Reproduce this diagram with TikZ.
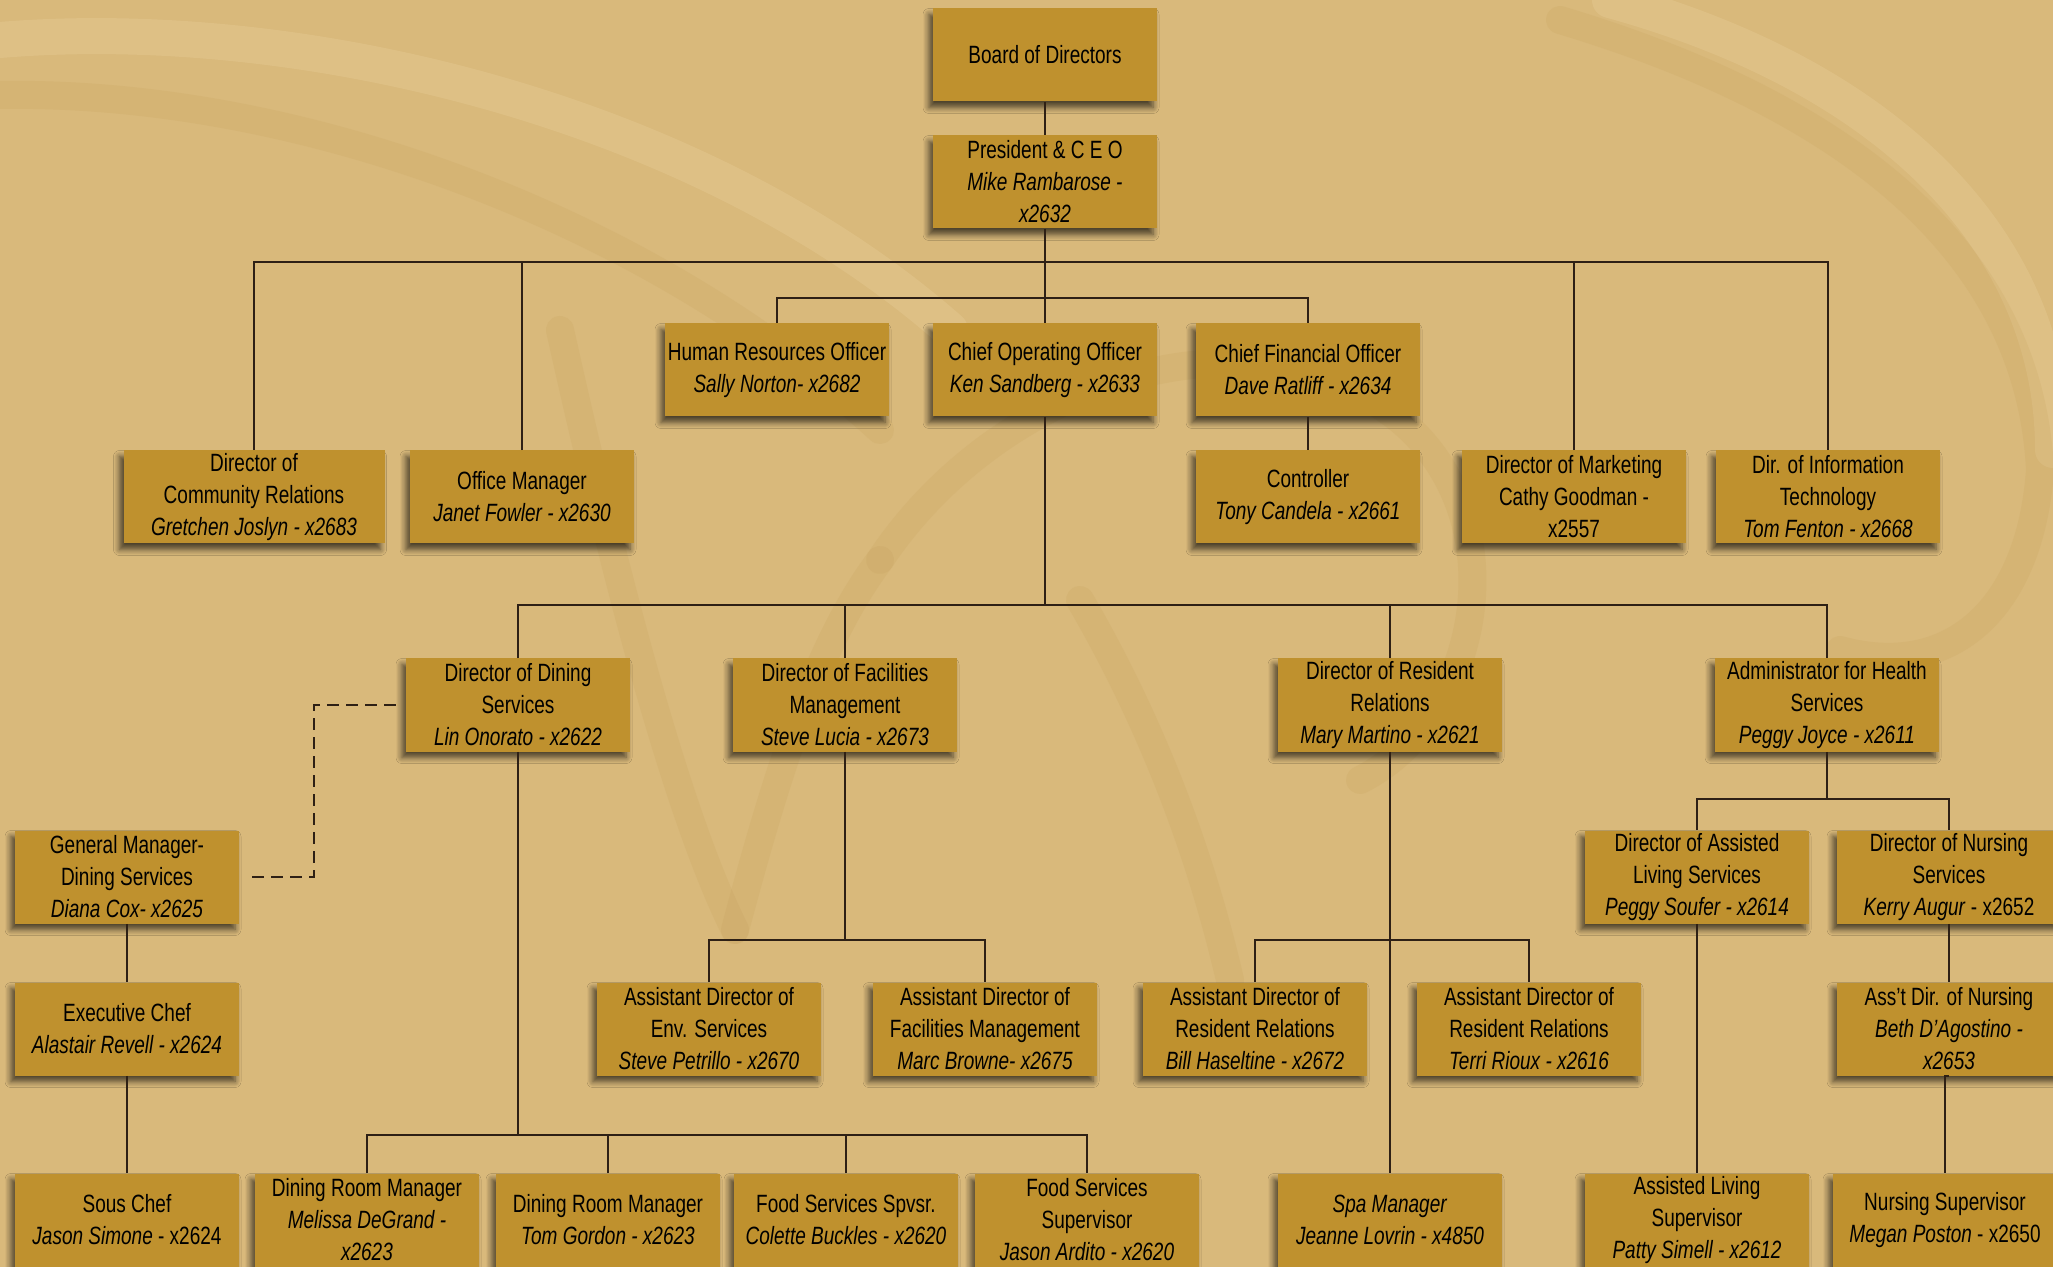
\documentclass[tikz,border=0pt]{standalone}
\usepackage{fontspec}
\setmainfont{Liberation Sans}[FakeStretch=0.76]
\usetikzlibrary{shadows.blur}
\definecolor{bg}{HTML}{D9B97B}
\definecolor{boxc}{HTML}{BF912E}
\definecolor{ln}{HTML}{2E2015}
\definecolor{wml}{HTML}{E8CE9A}
\definecolor{wmd}{HTML}{C29B55}
\newcommand{\nm}[1]{\textit{#1}}
\begin{document}
\begin{tikzpicture}[x=0.5pt,y=-0.5pt,
  box/.style={rectangle, fill=boxc, minimum width=112pt, minimum height=46.5pt,
    inner sep=1pt, align=center, font=\fontsize{12.5}{16}\selectfont,
    blur shadow={shadow xshift=-2pt, shadow yshift=-3pt, shadow blur radius=3pt, shadow blur steps=6, shadow opacity=65}},
  wide/.style={minimum width=130.5pt},
  conn/.style={draw=ln, line width=1pt},
  dl/.style={draw=ln, line width=1.2pt, dash pattern=on 6pt off 3.5pt},
  wmlight/.style={draw=wml, line width=18pt, opacity=0.35, line cap=round},
  wmdark/.style={draw=wmd, line width=14pt, opacity=0.16, line cap=round}]
\useasboundingbox (0,0) rectangle (2053,1267);
\fill[bg] (0,0) rectangle (2053,1267);
% watermark swirls
\draw[wmlight] (0,40) .. controls (300,15) and (700,110) .. (950,330);
\draw[wmdark] (0,95) .. controls (300,90) and (650,220) .. (880,430);
\draw[wmdark] (560,330) .. controls (620,600) and (680,820) .. (735,930);
\draw[wmdark] (735,930) .. controls (780,760) and (820,640) .. (880,560);
\draw[wmdark] (880,560) .. controls (1000,380) and (1250,300) .. (1400,420)
   .. controls (1520,520) and (1480,720) .. (1360,780);
\draw[wmdark] (1080,600) .. controls (1150,720) and (1200,850) .. (1230,980);
\draw[wmlight] (1610,0) .. controls (1900,80) and (2053,250) .. (2053,450);
\draw[wmdark] (1560,20) .. controls (1860,110) and (2030,260) .. (2040,470)
   .. controls (2030,610) and (1950,680) .. (1840,650);

% nodes
\node[box] (board) at (1045,55) {Board of Directors};
\node[box] (pres) at (1045,182) {President \& C E O\\\nm{Mike Rambarose -}\\\nm{x2632}};
\node[box] (hr) at (777,370) {Human Resources Officer\\\nm{Sally Norton- x2682}};
\node[box] (coo) at (1045,370) {Chief Operating Officer\\\nm{Ken Sandberg - x2633}};
\node[box] (cfo) at (1308,370) {Chief Financial Officer\\\nm{Dave Ratliff - x2634}};
\node[box,wide] (comm) at (254,497) {Director of\\Community Relations\\\nm{Gretchen Joslyn - x2683}};
\node[box] (office) at (522,497) {Office Manager\\\nm{Janet Fowler - x2630}};
\node[box] (ctrl) at (1308,497) {Controller\\\nm{Tony Candela - x2661}};
\node[box] (mkt) at (1574,497) {Director of Marketing\\Cathy Goodman -\\x2557};
\node[box] (it) at (1828,497) {Dir. of Information\\Technology\\\nm{Tom Fenton - x2668}};
\node[box] (dining) at (518,705) {Director of Dining\\Services\\\nm{Lin Onorato - x2622}};
\node[box] (fac) at (845,705) {Director of Facilities\\Management\\\nm{Steve Lucia - x2673}};
\node[box] (res) at (1390,705) {Director of Resident\\Relations\\\nm{Mary Martino - x2621}};
\node[box] (health) at (1827,705) {Administrator for Health\\Services\\\nm{Peggy Joyce - x2611}};
\node[box] (gm) at (127,877) {General Manager-\\Dining Services\\\nm{Diana Cox- x2625}};
\node[box] (exec) at (127,1029) {Executive Chef\\\nm{Alastair Revell - x2624}};
\node[box] (sous) at (127,1220) {Sous Chef\\\nm{Jason Simone} - x2624};
\node[box] (dals) at (1697,877) {Director of Assisted\\Living Services\\\nm{Peggy Soufer - x2614}};
\node[box] (dns) at (1949,877) {Director of Nursing\\Services\\\nm{Kerry Augur} - x2652};
\node[box] (adn) at (1949,1029) {Ass't Dir. of Nursing\\\nm{Beth D'Agostino -}\\\nm{x2653}};
\node[box] (nsup) at (1945,1220) {Nursing Supervisor\\\nm{Megan Poston} - x2650};
\node[box] (alsup) at (1697,1220) {Assisted Living\\Supervisor\\\nm{Patty Simell - x2612}};
\node[box] (env) at (709,1029) {Assistant Director of\\Env. Services\\\nm{Steve Petrillo - x2670}};
\node[box] (facm) at (985,1029) {Assistant Director of\\Facilities Management\\\nm{Marc Browne- x2675}};
\node[box] (bill) at (1255,1029) {Assistant Director of\\Resident Relations\\\nm{Bill Haseltine - x2672}};
\node[box] (terri) at (1529,1029) {Assistant Director of\\Resident Relations\\\nm{Terri Rioux - x2616}};
\node[box] (spa) at (1390,1220) {\nm{Spa Manager}\\\nm{Jeanne Lovrin - x4850}};
\node[box] (mel) at (367,1220) {Dining Room Manager\\\nm{Melissa DeGrand -}\\\nm{x2623}};
\node[box] (tom) at (608,1220) {Dining Room Manager\\\nm{Tom Gordon - x2623}};
\node[box] (col) at (846,1220) {Food Services Spvsr.\\\nm{Colette Buckles - x2620}};
\node[box] (jas) at (1087,1220) {Food Services\\Supervisor\\\nm{Jason Ardito - x2620}};

% bus coordinates
\coordinate (busA) at (0,262);
\coordinate (busB) at (0,298);
\coordinate (busC) at (0,605);
\coordinate (busD) at (0,1135);
\coordinate (busE) at (0,940);
\coordinate (busF) at (0,799);
\coordinate (dk) at (314,877);

% connectors
\draw[conn] (board) -- (pres);
\draw[conn] (pres.south) -- (coo.north);
\draw[conn] (comm.north) -- (comm.north |- busA) -- (it.north |- busA) -- (it.north);
\draw[conn] (office.north) -- (office.north |- busA);
\draw[conn] (mkt.north) -- (mkt.north |- busA);
\draw[conn] (hr.north) -- (hr.north |- busB) -- (cfo.north |- busB) -- (cfo.north);
\draw[conn] (cfo) -- (ctrl);
\draw[conn] (coo.south) -- (coo.south |- busC);
\draw[conn] (dining.north) -- (dining.north |- busC) -- (health.north |- busC) -- (health.north);
\draw[conn] (fac.north) -- (fac.north |- busC);
\draw[conn] (res.north) -- (res.north |- busC);
\draw[dl, shorten <=5pt, shorten >=3pt] (dining.west) -| (dk) -- (gm.east);
\draw[conn] (gm) -- (exec);
\draw[conn] (exec) -- (sous);
\draw[conn] (dining.south) -- (dining.south |- busD);
\draw[conn] (mel.north) -- (mel.north |- busD) -- (jas.north |- busD) -- (jas.north);
\draw[conn] (tom.north) -- (tom.north |- busD);
\draw[conn] (col.north) -- (col.north |- busD);
\draw[conn] (fac.south) -- (fac.south |- busE);
\draw[conn] (env.north) -- (env.north |- busE) -- (facm.north |- busE) -- (facm.north);
\draw[conn] (res.south) -- (spa.north);
\draw[conn] (bill.north) -- (bill.north |- busE) -- (terri.north |- busE) -- (terri.north);
\draw[conn] (health.south) -- (health.south |- busF);
\draw[conn] (dals.north) -- (dals.north |- busF) -- (dns.north |- busF) -- (dns.north);
\draw[conn] (dals) -- (alsup);
\draw[conn] (dns) -- (adn);
\draw[conn] (adn.south) -- (adn.south -| nsup.north) -- (nsup.north);
\end{tikzpicture}
\end{document}
